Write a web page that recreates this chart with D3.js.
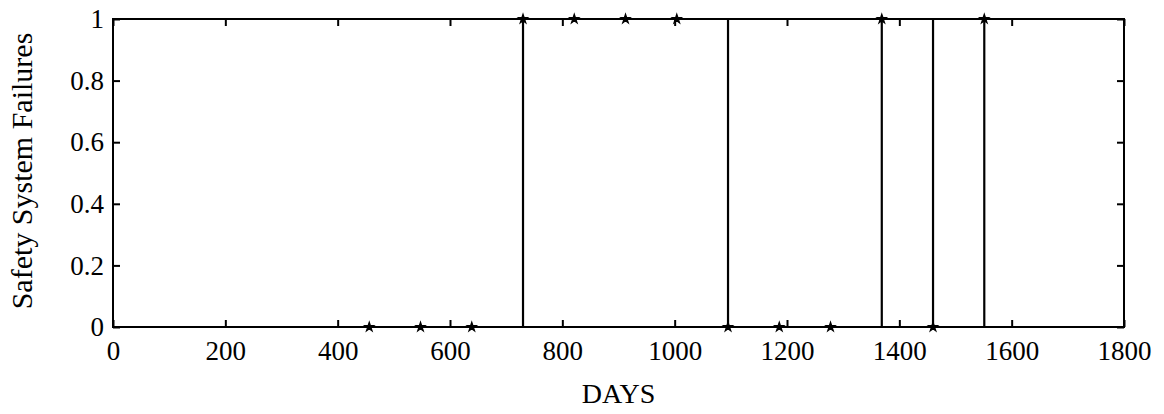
<!DOCTYPE html>
<html>
<head>
<meta charset="utf-8">
<script src="https://cdn.jsdelivr.net/npm/d3@7"></script>
<style>
  body { margin: 0; background: #fff; }
  text { font-family: "Liberation Serif", "DejaVu Serif", serif; fill: #000; }
</style>
</head>
<body>
<svg id="chart" width="1164" height="414"></svg>
<script>
// sample days (quarterly) and failure state at each sample
const days = [456.25, 547.5, 638.75, 730, 821.25, 912.5, 1003.75, 1095, 1186.25, 1277.5, 1368.75, 1460, 1551.25];
const failures = [0, 0, 0, 1, 1, 1, 1, 0, 0, 0, 1, 0, 1];
const xTicks = [0, 200, 400, 600, 800, 1000, 1200, 1400, 1600, 1800];
const yTicks = [0, 0.2, 0.4, 0.6, 0.8, 1];

const margin = { top: 19, right: 40, bottom: 87, left: 113 };
const width = 1164 - margin.left - margin.right;
const height = 414 - margin.top - margin.bottom;

const svg = d3.select('#chart');
const g = svg.append('g').attr('transform', `translate(${margin.left},${margin.top})`);

const x = d3.scaleLinear().domain([0, 1800]).range([0, width]);
const y = d3.scaleLinear().domain([0, 1]).range([height, 0]);

const tickLen = 7;

// bottom axis with labels
const xAxis = g.append('g').attr('transform', `translate(0,${height})`)
  .call(d3.axisBottom(x).tickValues(xTicks).tickFormat(d3.format('d')).tickSizeInner(-tickLen).tickSizeOuter(0).tickPadding(14));
// top axis, ticks only
const xTop = g.append('g')
  .call(d3.axisTop(x).tickValues(xTicks).tickFormat('').tickSizeInner(-tickLen).tickSizeOuter(0));
// left axis with labels
const yAxis = g.append('g')
  .call(d3.axisLeft(y).tickValues(yTicks).tickFormat(d => d === 0 || d === 1 ? d : d3.format('.1f')(d)).tickSizeInner(-tickLen).tickSizeOuter(0).tickPadding(9));
// right axis, ticks only
const yRight = g.append('g').attr('transform', `translate(${width},0)`)
  .call(d3.axisRight(y).tickValues(yTicks).tickFormat('').tickSizeInner(-tickLen).tickSizeOuter(0));

[xAxis, xTop, yAxis, yRight].forEach(a => {
  a.select('.domain').remove();
  a.selectAll('.tick line').attr('stroke', '#000').attr('stroke-width', 2);
  a.selectAll('text').style('font-size', '27px').style('font-family', '"Liberation Serif", serif').attr('fill', '#000');
});

// frame
g.append('rect')
  .attr('x', 0).attr('y', 0).attr('width', width).attr('height', height)
  .attr('fill', 'none').attr('stroke', '#000').attr('stroke-width', 2);

// staircase line
const pts = days.map((d, i) => [d, failures[i]]);
const line = d3.line().x(d => x(d[0])).y(d => y(d[1])).curve(d3.curveStepAfter);
g.append('path')
  .datum(pts)
  .attr('fill', 'none')
  .attr('stroke', '#000')
  .attr('stroke-width', 2.2)
  .attr('d', line);

// markers
const star = d3.symbol().type(d3.symbolStar).size(26);
g.selectAll('.mark')
  .data(pts)
  .join('path')
  .attr('class', 'mark')
  .attr('transform', d => `translate(${x(d[0])},${y(d[1])})`)
  .attr('d', star)
  .attr('fill', '#000')
  .attr('stroke', '#000')
  .attr('stroke-width', 1.2);

// axis titles
svg.append('text')
  .attr('x', margin.left + width / 2)
  .attr('y', 403)
  .attr('text-anchor', 'middle')
  .style('font-size', '28px')
  .text('DAYS');

svg.append('text')
  .attr('transform', `translate(32,${margin.top + height / 2 - 2}) rotate(-90)`)
  .attr('text-anchor', 'middle')
  .style('font-size', '30px')
  .text('Safety System Failures');
</script>
</body>
</html>
